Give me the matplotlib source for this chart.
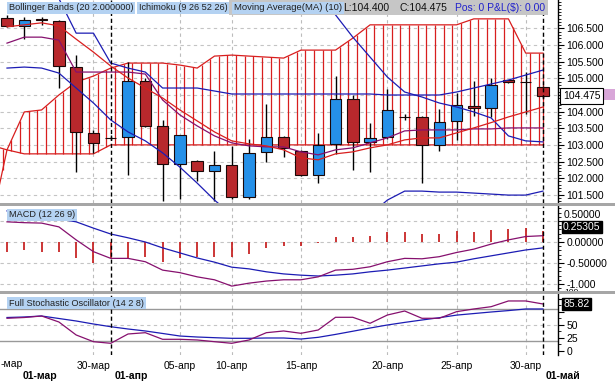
import numpy as np
import matplotlib
matplotlib.use('Agg')
import matplotlib.pyplot as plt
from matplotlib.patches import Rectangle
from matplotlib.ticker import MultipleLocator

plt.rcParams['font.family'] = ['Liberation Sans', 'DejaVu Sans']

W, H = 615, 382
nan = np.nan

# ---- price bars (one per trading day) ----
opens = [106.82, 106.59, 106.80, 106.72, 105.35, 103.37, 103.22, 103.24, 104.92, 103.57,
         102.42, 102.52, 102.20, 102.39, 101.42, 102.80, 103.25, 102.82, 102.10, 103.02,
         104.39, 103.10, 103.24, 103.84, 103.84, 103.00, 103.72, 104.18, 104.12, 104.94,
         104.89, 104.74]
highs = [106.90, 106.85, 106.86, 106.76, 105.69, 103.45, 103.30, 105.49, 105.02, 103.74,
         103.31, 102.55, 102.82, 102.97, 103.17, 104.24, 103.27, 102.85, 103.37, 105.07,
         104.49, 103.65, 104.67, 103.92, 103.87, 104.07, 104.57, 104.92, 105.00, 104.96,
         105.20, 104.76]
lows = [106.55, 106.19, 106.62, 104.72, 102.17, 102.77, 103.15, 102.10, 103.55, 101.32,
        101.37, 101.92, 101.32, 101.37, 101.37, 102.50, 102.64, 102.05, 101.85, 102.72,
        102.25, 102.19, 103.17, 103.74, 101.85, 102.82, 103.14, 103.87, 103.85, 104.86,
        103.92, 104.40]
closes = [106.57, 106.77, 106.76, 105.37, 103.39, 103.07, 103.22, 104.92, 103.57, 102.42,
          103.29, 102.20, 102.39, 101.42, 102.77, 103.25, 102.92, 102.10, 102.99, 104.39,
          103.10, 103.22, 104.04, 103.84, 103.00, 103.70, 104.20, 104.11, 104.79, 104.88,
          104.89, 104.475]

# ---- overlay lines on the price panel ----
band_a = [nan, nan, nan, 107.40, 106.36, 106.36, 105.46, 105.31, 105.19, 104.71,
          104.71, 104.71, 104.62, 104.53, 104.53, 104.53, 104.53, 104.53, 104.53, 104.53,
          104.53, 104.53, 104.50, 104.50, 104.50, 104.50, 104.59, 104.71, 104.83, 104.95,
          105.10, 105.25]
band_b = [nan] * 18 + [107.50, 106.91, 106.24, 105.64, 105.04, 104.59, 104.44, 104.26,
                       104.14, 103.99, 103.81, 103.27, 103.12, 103.09]
band_low = [105.31, 105.34, 105.31, 105.16, 104.71, 104.26, 103.75, 103.39, 103.12, 102.76,
            102.33, 101.85, 101.34, 100.90, 100.80, 100.80, 100.80, 100.80, 100.80, 100.80,
            100.80, 100.90, 101.34, 101.61, 101.61, 101.58, 101.58, 101.55, 101.52, 101.49,
            101.49, 101.61]
ma10 = [106.55, 106.61, 106.67, 106.58, 106.18, 105.79, 105.37, 105.01, 104.71, 104.41,
        104.05, 103.72, 103.39, 103.12, 103.03, 102.97, 102.85, 102.61, 102.55, 102.73,
        102.79, 102.91, 103.00, 103.15, 103.21, 103.21, 103.36, 103.51, 103.67, 103.84,
        103.99, 104.14]
band_mid = [106.06, 106.24, 106.24, 106.15, 105.19, 105.19, 105.19, 105.19, 105.13, 104.35,
            103.90, 103.57, 103.27, 103.06, 102.97, 102.94, 102.94, 102.79, 102.70, 102.85,
            102.91, 103.06, 103.21, 103.42, 103.45, 103.45, 103.45, 103.48, 103.48, 103.51,
            103.51, 103.51]

# Ichimoku cloud, starting one bar before the first candle
cloud_top = [100.44, 102.85, 103.99, 104.05, 104.50, 104.89, 105.07, 105.31, 105.46, 105.46,
             105.46, 105.40, 105.31, 105.67, 105.70, 105.67, 105.64, 105.61, 105.85, 105.85,
             105.85, 106.21, 106.61, 106.61, 106.61, 106.61, 106.61, 106.61, 106.79, 106.79,
             106.79, 105.76, 105.76]
cloud_bot = [103.00, 102.85, 102.73, 102.73, 102.73, 102.73, 102.73] + [103.00] * 26

# ---- MACD (12 26 9) ----
macd = [0.48, 0.46, 0.45, 0.36, 0.05, -0.23, -0.39, -0.39, -0.47, -0.67,
        -0.73, -0.83, -0.90, -1.05, -0.98, -0.93, -0.90, -0.90, -0.83, -0.67,
        -0.65, -0.59, -0.47, -0.39, -0.40, -0.35, -0.25, -0.17, -0.05, 0.05,
        0.13, 0.15]
signal = [0.74, 0.69, 0.62, 0.55, 0.48, 0.33, 0.19, 0.10, 0.00, -0.14,
          -0.26, -0.38, -0.48, -0.60, -0.64, -0.71, -0.76, -0.79, -0.81, -0.79,
          -0.76, -0.71, -0.67, -0.62, -0.57, -0.52, -0.48, -0.40, -0.33, -0.26,
          -0.19, -0.14]
hist = [-0.23, -0.19, -0.23, -0.25, -0.39, -0.51, -0.39, -0.41, -0.36, -0.47,
        -0.39, -0.35, -0.35, -0.35, -0.29, -0.15, -0.10, -0.10, -0.02, 0.13,
        0.13, 0.15, 0.23, 0.23, 0.20, 0.20, 0.25, 0.23, 0.29, 0.31,
        0.33, 0.253]

# ---- Full Stochastic (14 2 8) ----
stoch_k = [62.9, 64.4, 67.3, 55.8, 30.8, 17.9, 14.8, 32.7, 35.2, 22.5,
           22.5, 21.2, 17.9, 14.8, 21.2, 35.2, 38.5, 34.0, 40.4, 64.8,
           64.8, 53.3, 69.2, 76.9, 62.9, 62.9, 75.6, 80.8, 85.2, 96.2,
           96.2, 90.4]
stoch_d = [64.4, 65.4, 67.3, 62.5, 57.7, 51.9, 46.7, 42.3, 38.5, 33.7,
           28.8, 26.9, 25.6, 24.4, 24.4, 25.0, 25.0, 23.0, 26.3, 31.9,
           38.0, 44.2, 50.0, 55.0, 59.6, 64.0, 69.0, 72.0, 75.0, 77.7,
           80.8, 80.8]

week_ticks = [5, 10, 13, 17, 22, 26, 30]
week_labels = ['30-мар', '05-апр', '10-апр', '15-апр', '20-апр', '25-апр', '30-апр']
month_lines = [6, 31]

RED = '#d81e1e'
BLUE = '#1c1cb4'
PURPLE = '#86106e'
CANDLE_RED = '#b8282c'
CANDLE_BLUE = '#2590e8'
LABEL_BG = '#b4d2f2'

fig = plt.figure(figsize=(W / 100, H / 100), dpi=100)


def fy(py):
    return 1 - py / H


ax = fig.add_axes([0, fy(203), 558 / W, 203 / H])
am = fig.add_axes([0, fy(291), 558 / W, 85 / H])
ast = fig.add_axes([0, fy(355), 558 / W, 61 / H])

x = np.arange(len(opens))
step = 17.29
for a in (ax, am, ast):
    a.set_xlim(-7 / step, 551 / step)
    for t in week_ticks:
        a.axvline(t, color='#bcbcbc', ls=(0, (3, 3)), lw=0.8, zorder=0)
    for t in month_lines:
        a.axvline(t, color='black', ls=(0, (3, 2)), lw=1.0, zorder=6)
    for s in ('left', 'top', 'bottom'):
        a.spines[s].set_visible(False)
    a.spines['right'].set_linewidth(1.0)
    a.yaxis.tick_right()
    a.tick_params(axis='y', which='major', direction='out', length=4, width=0.8,
                  labelsize=7.5, pad=2)
    a.tick_params(axis='y', which='minor', direction='out', length=2, width=0.6)
    a.set_xticks([])

# ===== price panel =====
ax.set_ylim(101.252, 107.357)
yt = np.arange(101.5, 106.51, 0.5)
# 104.500 sits under the last-price box
ax.set_yticks(yt, ['' if abs(v - 104.5) < 1e-6 else f'{v:.3f}' for v in yt])
ax.yaxis.set_minor_locator(MultipleLocator(0.1))
for v in yt:
    ax.axhline(v, color='#c4c4c4', ls=(0, (3, 3)), lw=0.8, zorder=0)

cx = np.arange(-1, len(opens))
ax.plot(cx, cloud_top, color=RED, lw=0.9, zorder=1)
ax.plot(cx, cloud_bot, color=RED, lw=0.9, zorder=1)
hx = np.append(np.arange(-0.25, 31, 0.5), 31)
ax.vlines(hx, np.interp(hx, cx, cloud_bot), np.interp(hx, cx, cloud_top),
          color=RED, lw=0.9, zorder=1)

o = np.array(opens)
c = np.array(closes)
body_col = np.where(c > o, CANDLE_BLUE, np.where(c < o, CANDLE_RED, 'black'))
ax.vlines(x, lows, highs, color='black', lw=1.0, zorder=3)
ax.bar(x, np.abs(c - o), bottom=np.minimum(o, c), width=0.66, color=body_col,
       edgecolor='#1a0808', lw=0.8, zorder=4)

ax.plot(x, band_a, color=BLUE, lw=0.9, zorder=5)
ax.plot(x, band_b, color=BLUE, lw=0.9, zorder=5)
ax.plot(x, band_low, color=BLUE, lw=0.9, zorder=5)
ax.plot(x, band_mid, color=PURPLE, lw=0.9, zorder=5)
ax.plot(x, ma10, color=RED, lw=0.9, zorder=5)

# ===== MACD panel =====
am.set_ylim(-1.167, 0.857)
am.set_yticks([0.5, 0.0, -0.5, -1.0], ['', '0.00000', '-0.50000', '-1.000'])
am.yaxis.set_minor_locator(MultipleLocator(0.1))
for v in (0.5, 0.0, -0.5, -1.0):
    am.axhline(v, color='#c4c4c4', ls=(0, (3, 3)), lw=0.8, zorder=0)
am.vlines(x, 0, hist, color='#c41414', lw=1.2, zorder=2)
am.plot(x, signal, color=BLUE, lw=0.9, zorder=3)
am.plot(x, macd, color=PURPLE, lw=0.9, zorder=3)

# ===== Stochastic panel =====
ast.set_ylim(-7.7, 109.6)
ast.set_yticks([0, 25, 50, 75, 100], ['0', '25', '50', '', ''])
ast.yaxis.set_minor_locator(MultipleLocator(12.5))
ast.axhline(50, color='#c4c4c4', ls=(0, (3, 3)), lw=0.8, zorder=0)
ast.axhline(20, color='#999999', lw=1.0, zorder=1)
ast.axhline(80, color='#999999', lw=1.0, zorder=1)
ast.plot(x, stoch_d, color=BLUE, lw=0.9, zorder=3)
ast.plot(x, stoch_k, color=PURPLE, lw=0.9, zorder=3)
ast.set_xticks(week_ticks, week_labels)
ast.tick_params(axis='x', length=0, labelsize=7.5, pad=4)


# ===== figure-level decorations (pixel positions) =====
def ftext(px, py, s, **kw):
    return fig.text(px / W, fy(py), s, va='center', **kw)


def frect(px, py, w, h, color, z=10, **kw):
    fig.add_artist(Rectangle((px / W, fy(py + h)), w / W, h / H,
                             transform=fig.transFigure, facecolor=color,
                             zorder=z, **kw))


# scale labels squeezed next to the value boxes
ftext(564, 215, '0.50000', fontsize=7.5, color='black', zorder=8)
ftext(564, 293, '100', fontsize=6, color='black', zorder=8)

# panel separators
frect(0, 203, W, 3, '#a6a6a6')
frect(0, 291, W, 3, '#a6a6a6')

# header
frect(229, 0, 319, 15, '#c6c6c6', z=9)
lab = dict(boxstyle='square,pad=0.2', fc=LABEL_BG, ec='none')
ftext(9, 8, 'Bollinger Bands (20 2.000000)', fontsize=6.6, color='#202020', bbox=lab, zorder=11)
ftext(139, 8, 'Ichimoku (9 26 52 26)', fontsize=6.6, color='#202020', bbox=lab, zorder=11)
ftext(234, 8, 'Moving Average(MA) (10)', fontsize=6.8, color='#202020', bbox=lab, zorder=11)
ftext(343, 8, 'L:104.400', fontsize=7.5, color='#101010', zorder=11)
ftext(400, 8, 'C:104.475', fontsize=7.5, color='#101010', zorder=11)
ftext(455, 8, 'Pos: 0 P&L($): 0.00', fontsize=7.5, color='#2222cc', zorder=11)
ftext(9, 215, 'MACD (12 26 9)', fontsize=6.6, color='#202020', bbox=lab, zorder=11)
ftext(9, 303, 'Full Stochastic Oscillator (14 2 8)', fontsize=6.6, color='#202020',
      bbox=lab, zorder=11)

# last-value boxes on the right scales
frect(604, 89, 11, 11, '#d8a6d8', z=11)
ftext(563, 96, '104.475', fontsize=7.5, color='black', zorder=12,
      bbox=dict(boxstyle='square,pad=0.25', fc='white', ec='black', lw=0.8))
ftext(563, 227, '0.25305', fontsize=7.5, color='white', zorder=12,
      bbox=dict(boxstyle='square,pad=0.12', fc='black', ec='black'))
ftext(563, 304, '85.82', fontsize=7.5, color='white', zorder=12,
      bbox=dict(boxstyle='square,pad=0.12', fc='black', ec='black'))

# date axis: clipped first label and month row
ftext(1, 364, '-мар', fontsize=7.5, color='black')
ftext(23, 376, '01-мар', fontsize=7.5, fontweight='bold', color='black')
ftext(115, 376, '01-апр', fontsize=7.5, fontweight='bold', color='black')
ftext(546, 376, '01-май', fontsize=7.5, fontweight='bold', color='black')

fig.savefig('out.png', dpi=100)
